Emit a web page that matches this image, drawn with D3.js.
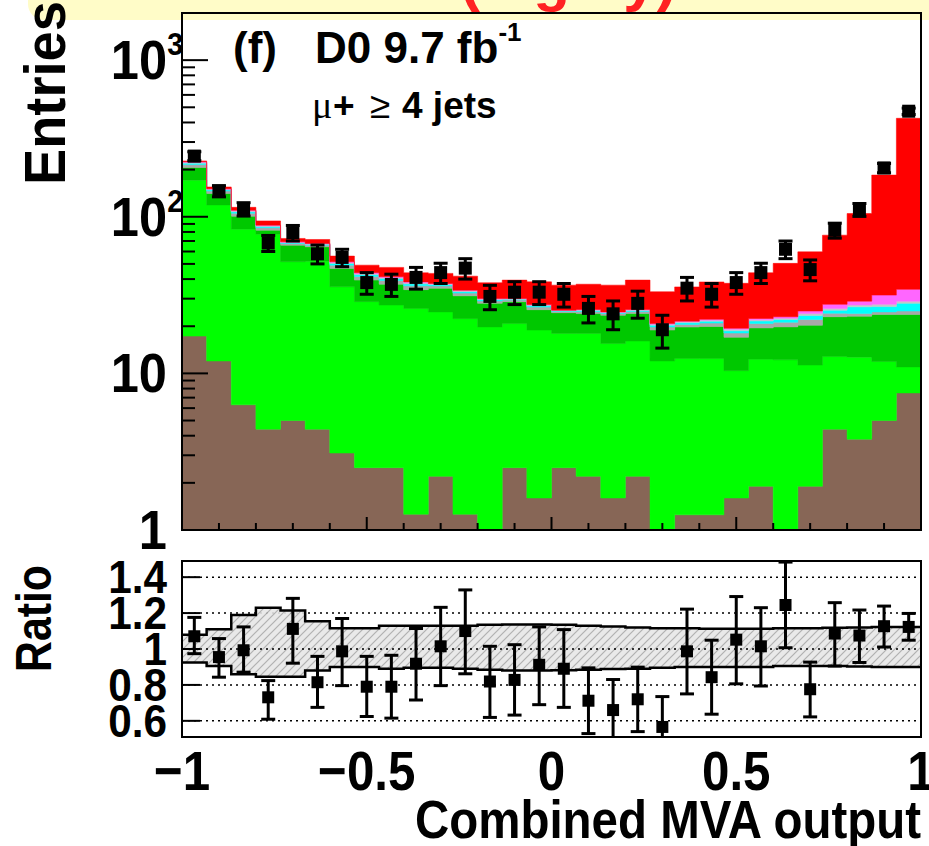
<!DOCTYPE html>
<html>
<head>
<style>
  body { margin: 0; background: #fff; }
  svg { display: block; font-family: "Liberation Sans", Arial, sans-serif; font-weight: bold; }
</style>
<script src="https://d3js.org/d3.v7.min.js"></script>
</head>
<body>
<svg width="929" height="846"></svg>
<script>
// --- values, one entry per bin (30 bins from -1 to 1)
var brown   = [17.3, 12.0, 6.3, 4.4, 5.0, 4.4, 3.1, 2.5, 2.5, 1.26, 2.2, 1.26, 0.7, 2.5, 1.6, 2.5, 2.2, 1.6, 2.2, 0.7, 1.25, 1.25, 1.6, 1.9, 0.7, 1.9, 4.4, 3.8, 5.0, 7.5];
var green   = [154, 107, 77, 73, 46.6, 47.6, 32.6, 26.2, 24.8, 24.7, 22.5, 21.1, 19.1, 18.3, 17.3, 15.5, 15.8, 13.9, 13.9, 11.3, 11.2, 11.2, 8.8, 10.4, 11.5, 9.4, 8.4, 8.9, 6.9, 3.5];
var dkgreen = [35, 22, 17.6, 4.7, 14.3, 12.3, 11, 10.7, 9.8, 8.3, 10.2, 8.9, 8.2, 7.9, 6.6, 6.4, 6.1, 8, 8, 6.9, 7.3, 7.5, 6.6, 7.2, 7.6, 9, 10.2, 10.5, 11.9, 12.8];
var gray    = [9, 5, 4.5, 3, 1.6, 1.6, 2.4, 2.2, 2.1, 2, 1.3, 1.3, 1, 0.7, 1, 0.45, 0.7, 0.6, 0.7, 0.9, 0.8, 1, 1.1, 1.3, 1.4, 1.8, 1.2, 0.9, 0.9, 1.2];
var cyan    = [4.5, 2.5, 2.2, 1.5, 0.8, 0.8, 1.2, 1.1, 1.1, 1, 0.6, 0.7, 0.5, 0.35, 0.5, 0.2, 0.4, 0.3, 0.4, 0.5, 0.5, 0.6, 0.6, 0.8, 0.9, 1.3, 1.1, 2.5, 2.0, 3.0];
var silver  = [2.7, 1.5, 1.3, 0.9, 0.5, 0.5, 0.7, 0.6, 0.6, 0.6, 0.4, 0.4, 0.3, 0.2, 0.3, 0.15, 0.2, 0.15, 0.2, 0.3, 0.3, 0.3, 0.4, 0.4, 0.4, 0.7, 0.7, 0.7, 0.9, 0.9];
var magenta = [1.8, 1, 1, 0.8, 0.4, 0.3, 0.6, 0.6, 0.5, 0.5, 0.3, 0.3, 0.3, 0.15, 0.2, 0.1, 0.2, 0.15, 0.2, 0.2, 0.2, 0.3, 0.3, 0.4, 0.5, 0.9, 1.6, 1.6, 4.0, 5.5];
var red     = [3, 4, 5, 5.8, 3.5, 4.1, 4.5, 5.2, 6.1, 5.5, 6, 7.8, 7.8, 9.3, 10.9, 11.3, 11.5, 11.9, 13.8, 12.4, 14.1, 16.2, 18.2, 21.5, 27.4, 34.7, 48.7, 76, 153, 391];

var data    = [244, 146, 112, 68, 79, 58, 55, 38, 37, 41, 44, 47, 31, 33, 33, 32, 26, 24, 28, 19, 35, 32, 38, 44, 62, 46, 82, 111, 205, 472];
var dataErr = [16, 12, 11, 8, 9, 8, 7, 6, 6, 6.5, 6.5, 7, 5.5, 5.5, 5.5, 5.5, 5, 5, 5.5, 4.5, 6, 5.5, 6, 6.5, 8, 7, 9, 10.5, 14, 22];

var ratio   = [1.071, 0.955, 0.993, 0.731, 1.112, 0.815, 0.987, 0.79, 0.79, 0.918, 1.015, 1.10, 0.819, 0.828, 0.912, 0.89, 0.712, 0.66, 0.72, 0.566, 0.987, 0.843, 1.052, 1.015, 1.245, 0.776, 1.086, 1.075, 1.127, 1.123];
var ratioHi = [1.176, 1.058, 1.123, 0.824, 1.282, 0.959, 1.17, 0.959, 0.965, 1.114, 1.232, 1.329, 1.015, 1.024, 1.123, 1.108, 0.895, 0.83, 0.899, 0.735, 1.222, 1.049, 1.292, 1.23, 1.484, 0.927, 1.258, 1.217, 1.239, 1.198];
var ratioLo = [0.974, 0.843, 0.871, 0.609, 0.921, 0.675, 0.796, 0.624, 0.615, 0.716, 0.796, 0.862, 0.619, 0.632, 0.69, 0.675, 0.529, 0.507, 0.54, 0.507, 0.75, 0.637, 0.806, 0.794, 1.007, 0.622, 0.905, 0.925, 1.011, 1.049];
var bandHi  = [1.08, 1.11, 1.19, 1.23, 1.215, 1.155, 1.115, 1.115, 1.13, 1.13, 1.13, 1.13, 1.135, 1.137, 1.137, 1.135, 1.13, 1.125, 1.12, 1.115, 1.115, 1.113, 1.113, 1.113, 1.115, 1.115, 1.118, 1.12, 1.122, 1.122];
var bandLo  = [0.925, 0.905, 0.86, 0.845, 0.845, 0.88, 0.9, 0.9, 0.89, 0.895, 0.895, 0.89, 0.885, 0.88, 0.88, 0.882, 0.885, 0.888, 0.89, 0.895, 0.9, 0.9, 0.9, 0.9, 0.905, 0.905, 0.905, 0.903, 0.9, 0.9];

var xTicks = [-1, -0.5, 0, 0.5, 1];
var xTickLabels = ["\u22121", "\u22120.5", "0", "0.5", "1"];
var ratioTicks = [0.6, 0.8, 1, 1.2, 1.4];
var ratioTickLabels = ["0.6", "0.8", "1", "1.2", "1.4"];

var svg = d3.select("svg");

var x  = d3.scaleLinear().domain([-1, 1]).range([182, 921]);
var y  = d3.scaleLog().domain([1, 2000]).range([530, 13]);
var yr = d3.scaleLinear().domain([0.51, 1.49]).range([737, 561]);

var nBins = 30;
var edges = d3.range(nBins + 1).map(function(i) { return -1 + 2 * i / nBins; });
var centers = d3.range(nBins).map(function(i) { return -1 + 2 * (i + 0.5) / nBins; });

// header strip (cut off at top)
svg.append("rect").attr("x", 28).attr("y", -40).attr("width", 960).attr("height", 60)
   .attr("rx", 16).attr("fill", "#fffcc8");
svg.append("text").attr("x", 460).attr("y", 0).attr("fill", "#ff2222")
   .style("font-size", "60px").text("(highly)");

var defs = svg.append("defs");
defs.append("clipPath").attr("id", "cm").append("rect")
    .attr("x", 182).attr("y", 13).attr("width", 739).attr("height", 517);
defs.append("clipPath").attr("id", "cr").append("rect")
    .attr("x", 182).attr("y", 561).attr("width", 739).attr("height", 176);
var pat = defs.append("pattern").attr("id", "hatch").attr("patternUnits", "userSpaceOnUse")
    .attr("width", 8).attr("height", 8);
pat.append("rect").attr("width", 8).attr("height", 8).attr("fill", "#e6e6e6");
pat.append("path").attr("d", "M-2,2 L2,-2 M0,8 L8,0 M6,10 L10,6")
   .attr("stroke", "#a8a8a8").attr("stroke-width", 1.2);

// ---------- main panel: stacked histograms
var layers = [
  { v: brown,   c: "#876656" },
  { v: green,   c: "#00ff00" },
  { v: dkgreen, c: "#00c800" },
  { v: gray,    c: "#a8a8a8" },
  { v: cyan,    c: "#00ffff" },
  { v: silver,  c: "#c0c8c8" },
  { v: magenta, c: "#ff66ff" },
  { v: red,     c: "#ff0000" }
];
var cum = new Array(nBins).fill(0);
var stacked = layers.map(function(L) {
  var lo = cum.slice();
  cum = cum.map(function(c, i) { return c + L.v[i]; });
  return { lo: lo, hi: cum.slice(), c: L.c };
});

var area = d3.area().curve(d3.curveStepAfter)
    .x(function(d) { return x(d.e); })
    .y0(function(d) { return y(Math.max(d.lo, 0.1)); })
    .y1(function(d) { return y(Math.max(d.hi, 0.1)); });

var gm = svg.append("g").attr("clip-path", "url(#cm)");
stacked.forEach(function(s) {
  var pts = edges.map(function(e, i) {
    var k = Math.min(i, nBins - 1);
    return { e: e, lo: s.lo[k], hi: s.hi[k] };
  });
  gm.append("path").attr("d", area(pts)).attr("fill", s.c).attr("stroke", s.c).attr("stroke-width", 0.5);
});

// data points with error bars
var pts = gm.selectAll(".pt").data(centers).enter().append("g");
pts.append("line")
   .attr("x1", function(d) { return x(d); }).attr("x2", function(d) { return x(d); })
   .attr("y1", function(d, i) { return y(data[i] + dataErr[i]); })
   .attr("y2", function(d, i) { return y(data[i] - dataErr[i]); })
   .attr("stroke", "#000").attr("stroke-width", 3);
[1, -1].forEach(function(sg) {
  pts.append("line")
     .attr("x1", function(d) { return x(d) - 7; }).attr("x2", function(d) { return x(d) + 7; })
     .attr("y1", function(d, i) { return y(data[i] + sg * dataErr[i]); })
     .attr("y2", function(d, i) { return y(data[i] + sg * dataErr[i]); })
     .attr("stroke", "#000").attr("stroke-width", 3);
});
pts.append("rect")
   .attr("x", function(d) { return x(d) - 6.5; })
   .attr("y", function(d, i) { return y(data[i]) - 6.5; })
   .attr("width", 13).attr("height", 13).attr("fill", "#000");

// main frame and ticks
svg.append("rect").attr("x", 182).attr("y", 13).attr("width", 739).attr("height", 517)
   .attr("fill", "none").attr("stroke", "#000").attr("stroke-width", 2);

var ax = svg.append("g").attr("stroke", "#000").attr("stroke-width", 2);
[1, 10, 100, 1000].forEach(function(dec) {
  ax.append("line").attr("x1", 182).attr("x2", 208).attr("y1", y(dec)).attr("y2", y(dec));
  for (var m = 2; m <= 9; m++) {
    var v = dec * m;
    if (v > 2000) break;
    ax.append("line").attr("x1", 182).attr("x2", 195).attr("y1", y(v)).attr("y2", y(v));
  }
});
d3.range(21).forEach(function(i) {
  var v = -1 + i * 0.1;
  var major = i % 5 === 0;
  ax.append("line").attr("x1", x(v)).attr("x2", x(v))
    .attr("y1", 530).attr("y2", 530 - (major ? 13 : 7));
});

// y labels of main panel
var yLab = [{ v: 1000, b: "10", s: "3" }, { v: 100, b: "10", s: "2" }, { v: 10, b: "10", s: "" }, { v: 1, b: "1", s: "" }];
yLab.forEach(function(L) {
  var t = svg.append("text").attr("text-anchor", "end")
     .attr("transform", "translate(" + (L.s ? 183 : 167) + "," + (y(L.v) + 19) + ") scale(0.92,1)")
     .style("font-size", "55px");
  t.append("tspan").text(L.b);
  if (L.s) t.append("tspan").attr("dy", -24).style("font-size", "31px").text(L.s);
});

svg.append("text").attr("transform", "translate(65,1) rotate(-90)")
   .attr("text-anchor", "end").style("font-size", "57px")
   .attr("textLength", 184).attr("lengthAdjust", "spacingAndGlyphs").text("Entries");

// labels inside main panel
svg.append("text").attr("x", 233).attr("y", 63).style("font-size", "44px").text("(f)");
var t1 = svg.append("text").attr("x", 315).attr("y", 63).style("font-size", "44px");
t1.append("tspan").text("D0 9.7 fb");
t1.append("tspan").attr("dy", -22).style("font-size", "26px").text("-1");

svg.append("text").attr("x", 312).attr("y", 118).style("font-size", "38px")
   .style("font-family", "'Liberation Serif', serif").style("font-weight", "normal").text("\u03bc");
svg.append("text").attr("x", 333).attr("y", 118).style("font-size", "37px").text("+");
svg.append("text").attr("x", 370).attr("y", 118).style("font-size", "37px")
   .style("font-weight", "normal").text("\u2265");
svg.append("text").attr("x", 402).attr("y", 118).style("font-size", "37px").text("4 jets");

// ---------- ratio panel
var gr = svg.append("g").attr("clip-path", "url(#cr)");
ratioTicks.forEach(function(v) {
  gr.append("line").attr("x1", 182).attr("x2", 921).attr("y1", yr(v)).attr("y2", yr(v))
    .attr("stroke", "#000").attr("stroke-width", 1.5).attr("stroke-dasharray", "2,4");
});

var bandPts = edges.map(function(e, i) {
  var k = Math.min(i, nBins - 1);
  return { e: e, lo: bandLo[k], hi: bandHi[k] };
});
var bandArea = d3.area().curve(d3.curveStepAfter)
    .x(function(d) { return x(d.e); })
    .y0(function(d) { return yr(d.lo); })
    .y1(function(d) { return yr(d.hi); });
gr.append("path").attr("d", bandArea(bandPts)).attr("fill", "url(#hatch)").attr("opacity", 0.9);
["hi", "lo"].forEach(function(k) {
  var ln = d3.line().curve(d3.curveStepAfter)
      .x(function(d) { return x(d.e); }).y(function(d) { return yr(d[k]); });
  gr.append("path").attr("d", ln(bandPts)).attr("fill", "none").attr("stroke", "#000").attr("stroke-width", 2.5);
});
// the 1.0 line drawn again over the band
gr.append("line").attr("x1", 182).attr("x2", 921).attr("y1", yr(1)).attr("y2", yr(1))
  .attr("stroke", "#000").attr("stroke-width", 1.5).attr("stroke-dasharray", "2,4");

var rp = gr.selectAll(".rp").data(centers).enter().append("g");
rp.append("line")
  .attr("x1", function(d) { return x(d); }).attr("x2", function(d) { return x(d); })
  .attr("y1", function(d, i) { return yr(ratioHi[i]); })
  .attr("y2", function(d, i) { return yr(ratioLo[i]); })
  .attr("stroke", "#000").attr("stroke-width", 3);
[ratioHi, ratioLo].forEach(function(arr) {
  rp.append("line")
    .attr("x1", function(d) { return x(d) - 7; }).attr("x2", function(d) { return x(d) + 7; })
    .attr("y1", function(d, i) { return yr(arr[i]); })
    .attr("y2", function(d, i) { return yr(arr[i]); })
    .attr("stroke", "#000").attr("stroke-width", 3);
});
rp.append("rect")
  .attr("x", function(d) { return x(d) - 6; })
  .attr("y", function(d, i) { return yr(ratio[i]) - 6; })
  .attr("width", 12).attr("height", 12).attr("fill", "#000");

svg.append("rect").attr("x", 182).attr("y", 561).attr("width", 739).attr("height", 176)
   .attr("fill", "none").attr("stroke", "#000").attr("stroke-width", 2);
ratioTicks.forEach(function(v, i) {
  svg.append("line").attr("x1", 182).attr("x2", 200).attr("y1", yr(v)).attr("y2", yr(v))
     .attr("stroke", "#000").attr("stroke-width", 2);
  svg.append("text").attr("text-anchor", "end")
     .attr("transform", "translate(167," + (yr(v) + 16) + ") scale(0.92,1)")
     .style("font-size", "46px").text(ratioTickLabels[i]);
});

svg.append("text").attr("transform", "translate(51,565) rotate(-90)")
   .attr("text-anchor", "end").style("font-size", "50px")
   .attr("textLength", 107).attr("lengthAdjust", "spacingAndGlyphs").text("Ratio");

// x axis labels
xTicks.forEach(function(v, i) {
  svg.append("text").attr("text-anchor", "middle")
     .attr("transform", "translate(" + x(v) + ",790) scale(0.88,1)")
     .style("font-size", "56px").text(xTickLabels[i]);
});
svg.append("text").attr("text-anchor", "end").attr("x", 921).attr("y", 838)
   .style("font-size", "53px").attr("textLength", 506).attr("lengthAdjust", "spacingAndGlyphs")
   .text("Combined MVA output");
</script>
</body>
</html>
